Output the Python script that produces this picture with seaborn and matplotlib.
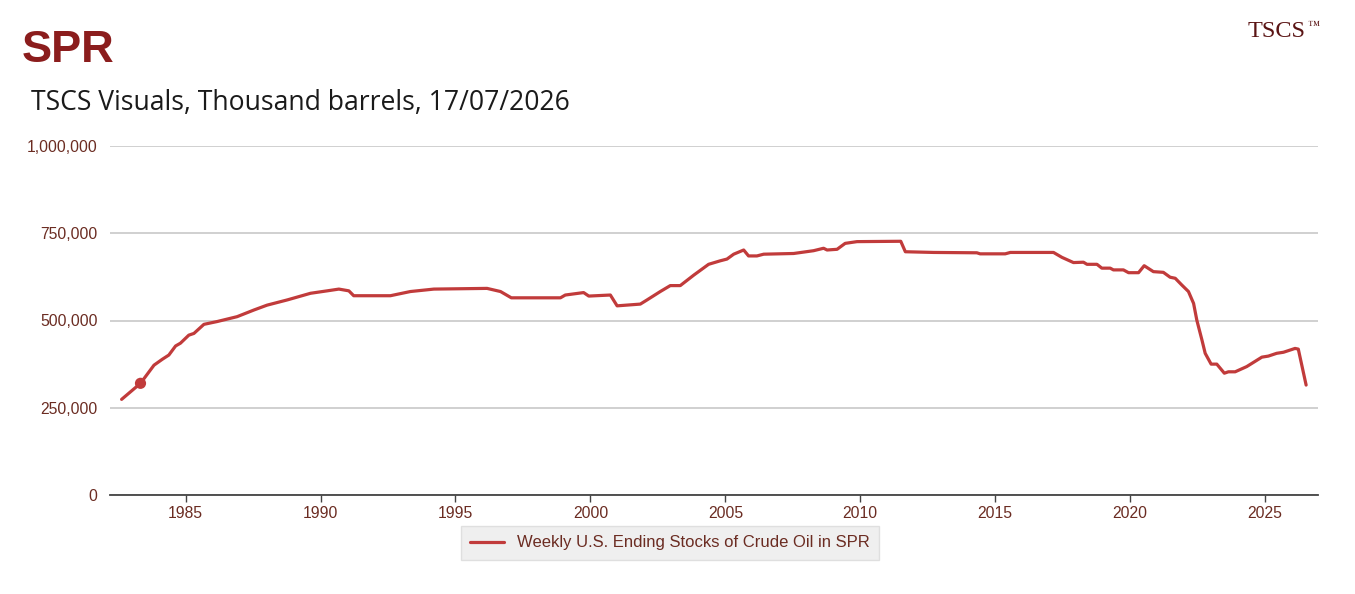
import numpy as np
import pandas as pd
import matplotlib
matplotlib.use("Agg")
import matplotlib.pyplot as plt
import seaborn as sns

# ---- data (decimal year, thousand barrels) ----
years = [1982.63, 1983.33, 1983.83, 1984.14, 1984.38, 1984.63, 1984.81, 1985.12, 1985.31,
         1985.68, 1986.17, 1986.91, 1987.53, 1988.02, 1988.77, 1989.63, 1990.25, 1990.68,
         1991.05, 1991.23, 1992.59, 1993.33, 1994.20, 1996.17, 1996.67, 1997.07, 1998.89,
         1999.07, 1999.75, 1999.94, 2000.74, 2000.99, 2001.85, 2002.10, 2002.59, 2002.96,
         2003.33, 2003.83, 2004.38, 2004.81, 2005.06, 2005.31, 2005.68, 2005.86, 2006.17,
         2006.42, 2007.53, 2008.27, 2008.64, 2008.77, 2009.14, 2009.44, 2009.88, 2011.50,
         2011.67, 2012.72, 2014.32, 2014.44, 2015.37, 2015.56, 2017.16, 2017.47, 2017.90,
         2018.27, 2018.40, 2018.77, 2018.95, 2019.26, 2019.38, 2019.75, 2019.94, 2020.31,
         2020.52, 2020.86, 2021.23, 2021.48, 2021.67, 2021.91, 2022.16, 2022.35, 2022.47,
         2022.66, 2022.78, 2023.00, 2023.21, 2023.49, 2023.64, 2023.89, 2024.32, 2024.88,
         2025.12, 2025.43, 2025.68, 2026.11, 2026.23, 2026.52]
stocks = [274, 320, 372, 389, 401, 427, 435, 458, 463,
          489, 497, 511, 530, 544, 559, 578, 585, 590,
          585, 571, 571, 583, 590, 592, 583, 565, 565,
          573, 580, 570, 573, 542, 547, 559, 583, 600,
          600, 630, 661, 671, 676, 690, 702, 685, 685,
          690, 692, 700, 707, 702, 704, 721, 726, 727,
          697, 695, 694, 691, 691, 695, 695, 681, 666,
          667, 661, 661, 650, 650, 645, 645, 637, 637,
          657, 640, 638, 624, 621, 602, 583, 549, 501,
          444, 406, 375, 375, 349, 353, 353, 368, 395,
          398, 406, 409, 420, 418, 315]
stocks = [v * 1000 for v in stocks]
highlight_year = [1983.33]
highlight_value = [320000]

xtick_years = [1985, 1990, 1995, 2000, 2005, 2010, 2015, 2020, 2025]
ytick_values = [0, 250000, 500000, 750000, 1000000]
series_name = "Weekly U.S. Ending Stocks of Crude Oil in SPR"

df = pd.DataFrame({"year": years, "value": stocks, "series": series_name})
hl = pd.DataFrame({"year": highlight_year, "value": highlight_value})

sns.set_theme(style="white")
plt.rcParams["font.family"] = ["Liberation Sans", "DejaVu Sans"]

RED = "#c13b3b"
BROWN = "#6b2c22"
MAROON = "#8b1d1d"

fig = plt.figure(figsize=(13.55, 5.94), dpi=100)
fig.patch.set_facecolor("white")
ax = fig.add_axes([110 / 1355, 1 - 495 / 594, (1318 - 110) / 1355, (495 - 146) / 594])
ax.set_facecolor("none")

sns.lineplot(data=df, x="year", y="value", hue="series", palette=[RED],
             linewidth=2.3, ax=ax, legend=True)
sns.scatterplot(data=hl, x="year", y="value", color=RED, s=65, edgecolor="none",
                ax=ax, legend=False, zorder=5)

ax.set_xlim(1982.2, 2026.96)
ax.set_ylim(0, 1000000)
ax.set_xticks(xtick_years)
ax.set_xticklabels([str(y) for y in xtick_years])
ax.set_yticks(ytick_values)
ax.set_yticklabels([f"{v:,}" for v in ytick_values])
ax.set_xlabel("")
ax.set_ylabel("")

ax.grid(axis="y", color="#c4c4c4", linewidth=1.1)
ax.grid(axis="x", visible=False)
for s in ["top", "right", "left"]:
    ax.spines[s].set_visible(False)
ax.spines["bottom"].set_color("#444444")
ax.spines["bottom"].set_linewidth(1.3)
ax.tick_params(axis="x", colors="#444444", labelcolor=BROWN, labelsize=11.3,
               length=5, width=1, direction="out", bottom=True, pad=3)
ax.tick_params(axis="y", labelcolor=BROWN, labelsize=11.3, length=0, pad=9)

leg = ax.legend(loc="center", bbox_to_anchor=(670 / 1355, 1 - 543 / 594),
                bbox_transform=fig.transFigure, frameon=True, fontsize=12,
                handlelength=2.0, borderpad=0.55, fancybox=False)
leg.get_frame().set_facecolor("#eeeeee")
leg.get_frame().set_edgecolor("#dddddd")
leg.get_frame().set_alpha(0.9)
for t in leg.get_texts():
    t.set_color(BROWN)
for h in leg.get_lines():
    h.set_linewidth(2.3)

fig.text(22 / 1355, 1 - 62 / 594, "SPR", fontsize=32.5, fontweight="bold",
         color=MAROON, family=["Liberation Sans", "DejaVu Sans"], va="baseline")
fig.text(31 / 1355, 1 - 110 / 594, "TSCS Visuals, Thousand barrels, 17/07/2026",
         fontsize=19.1, color="#1a1a1a", family=["Open Sans", "DejaVu Sans"], va="baseline")
fig.text(1306 / 1355, 1 - 37 / 594, "TSCS", fontsize=17.5, color="#5a1414",
         family=["Liberation Serif", "DejaVu Serif"], ha="right", va="baseline")
fig.text(1307 / 1355, 1 - 29 / 594, "\u2122", fontsize=9, color="#5a1414",
         family=["Liberation Serif", "DejaVu Serif"], ha="left", va="baseline")

fig.savefig("out.png", dpi=100, facecolor="white")
